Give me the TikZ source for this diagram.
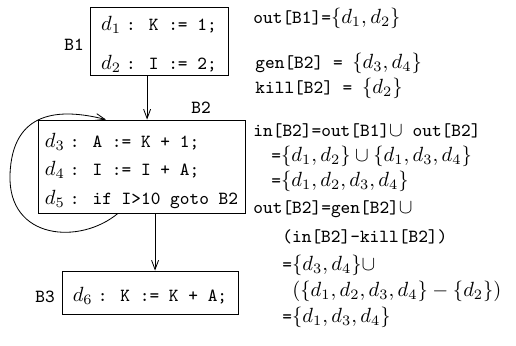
\documentclass[tikz,border=0pt]{standalone}
\usepackage{tikz}
\usetikzlibrary{arrows.meta}

\newcommand{\tx}[1]{{\fontsize{9}{11}\selectfont\ttfamily #1}}

\begin{document}
\begin{tikzpicture}[x=0.487pt, y=-0.487pt,
    blk/.style={draw, inner sep=0pt, align=left},
    eq/.style={anchor=west, inner sep=0pt, text height=7pt, text depth=2pt},
    arr/.style={-{Straight Barb[length=4.5pt, width=3.4pt]}}]
      \useasboundingbox (0,0) rectangle (516,345);
      \node[blk, minimum width=67.2pt, minimum height=33.1pt] (b1) at (159,41)
        {\rule{0pt}{10pt}$d_1$\hspace{2.5pt}\tx{: K := 1;}\\[7pt] $d_2$\hspace{2.5pt}\tx{: I := 2;}};
      \node[blk, minimum width=100.8pt, minimum height=45.3pt] (b2) at (141.5,166.5)
        {\rule{0pt}{11pt}$d_3$\hspace{2.5pt}\tx{: A := K + 1;}\\[1.8pt] $d_4$\hspace{2.5pt}\tx{: I := I + A;}\\[1.8pt] $d_5$\hspace{2.5pt}\tx{: if I>10 goto B2}};
      \node[blk, minimum width=85.7pt, minimum height=20.9pt] (b3) at (150,292.5)
        {\rule{0pt}{10pt}$d_6$\hspace{2.5pt}\tx{: K := K + A;}};
      \node (l1) at (74,45) {\tx{B1}};
      \node (l2) at (201,108) {\tx{B2}};
      \node (l3) at (45,297) {\tx{B3}};
      \draw[arr] ([xshift=-5.8pt]b1.south) -- ([xshift=-5.8pt]b1.south |- b2.north);
      \draw[arr] ([xshift=6.6pt]b2.south) -- ([xshift=6.6pt]b2.south |- b3.north);
      \draw[arr] ([xshift=-11.5pt]b2.south) ..controls(80,245) and (8,240).. (10,175)
        ..controls(12,110) and (60,108).. ([xshift=-17.3pt]b2.north);
      \node[eq] (e1) at (253,18) {\tx{out[B1]=}$\{d_1,d_2\}$};
      \node[eq] (e2) at (255,63.5) {\tx{gen[B2] = }$\{d_3,d_4\}$};
      \node[eq] (e3) at (255,88) {\tx{kill[B2] = }$\{d_2\}$};
      \node[eq] (e4) at (253,131) {\tx{in[B2]=out[B1]}$\cup$\tx{ out[B2]}};
      \node[eq] (e5) at (271,156) {\tx{=}$\{d_1,d_2\}\cup\{d_1,d_3,d_4\}$};
      \node[eq] (e6) at (271,181) {\tx{=}$\{d_1,d_2,d_3,d_4\}$};
      \node[eq] (e7) at (253,208) {\tx{out[B2]=gen[B2]}$\cup$};
      \node[eq] (e8) at (282,237) {\tx{(in[B2]-kill[B2])}};
      \node[eq] (e9) at (282,265) {\tx{=}$\{d_3,d_4\}\cup$};
      \node[eq] (e10) at (292,291) {$(\{d_1,d_2,d_3,d_4\}-\{d_2\})$};
      \node[eq] (e11) at (282,317) {\tx{=}$\{d_1,d_3,d_4\}$};
    \end{tikzpicture}
\end{document}
